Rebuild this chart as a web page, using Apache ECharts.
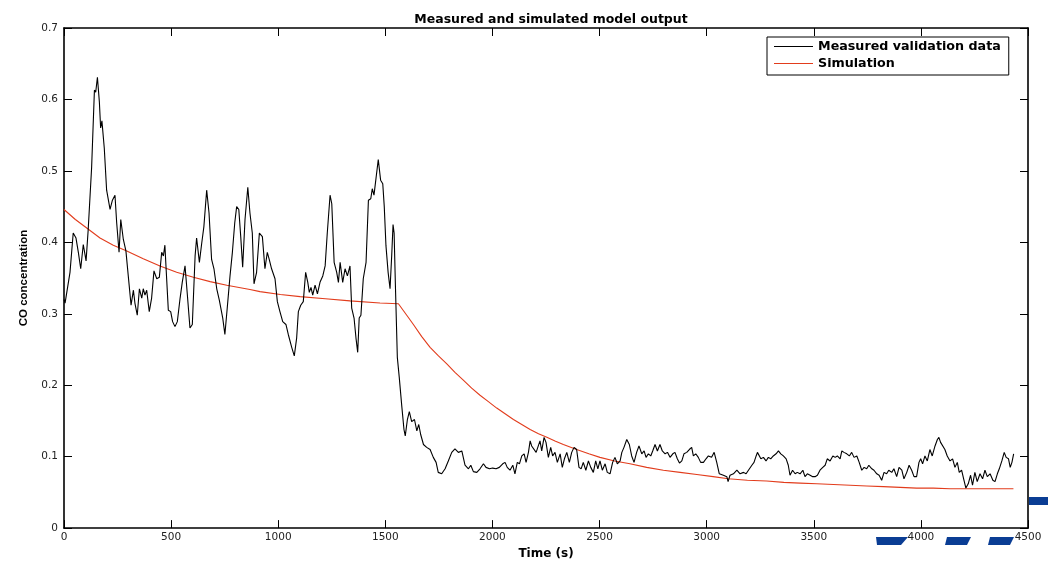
<!DOCTYPE html>
<html>
<head>
<meta charset="utf-8">
<script src="https://cdn.jsdelivr.net/npm/echarts@6/dist/echarts.min.js"></script>
<style>
  html, body { margin: 0; padding: 0; background: #fff; }
  #chart { width: 1048px; height: 565px; }
</style>
</head>
<body>
<div id="chart"></div>
<script>
// measured validation data, [time (s), CO concentration]
const measured = [
  [0, 0.320], [5, 0.315], [10, 0.317], [28, 0.358], [43, 0.413], [56, 0.406], [67, 0.386],
  [78, 0.363], [90, 0.397], [103, 0.374], [113, 0.418], [129, 0.505], [142, 0.613], [148, 0.610],
  [156, 0.631], [165, 0.597], [171, 0.560], [177, 0.570], [188, 0.532], [199, 0.473], [204, 0.475],
  [215, 0.446], [226, 0.459], [238, 0.466], [246, 0.427], [257, 0.386], [265, 0.432], [277, 0.404],
  [289, 0.388], [300, 0.353], [313, 0.312], [324, 0.333], [331, 0.315], [342, 0.298], [352, 0.335],
  [363, 0.322], [370, 0.335], [378, 0.326], [386, 0.333], [398, 0.303], [409, 0.322], [420, 0.360],
  [433, 0.349], [445, 0.351], [456, 0.386], [464, 0.381], [471, 0.396], [476, 0.367], [487, 0.305],
  [498, 0.303], [507, 0.289], [518, 0.282], [529, 0.289], [542, 0.322], [552, 0.344], [565, 0.367],
  [576, 0.326], [588, 0.280], [599, 0.285], [612, 0.381], [619, 0.406], [632, 0.372], [643, 0.399],
  [653, 0.422], [666, 0.473], [677, 0.441], [689, 0.376], [700, 0.363], [713, 0.335], [725, 0.319],
  [741, 0.294], [751, 0.271], [762, 0.308], [775, 0.353], [786, 0.386], [797, 0.427], [806, 0.450],
  [816, 0.446], [825, 0.408], [834, 0.365], [845, 0.432], [858, 0.477], [868, 0.441], [879, 0.413],
  [887, 0.342], [899, 0.358], [912, 0.413], [926, 0.408], [938, 0.363], [949, 0.386], [958, 0.376],
  [969, 0.363], [985, 0.349], [996, 0.317], [1008, 0.303], [1021, 0.289], [1036, 0.285], [1047, 0.271],
  [1063, 0.253], [1075, 0.241], [1086, 0.266], [1094, 0.303], [1105, 0.312], [1117, 0.317], [1128, 0.358],
  [1138, 0.344], [1145, 0.330], [1153, 0.337], [1161, 0.326], [1172, 0.340], [1183, 0.328], [1195, 0.344],
  [1208, 0.353], [1219, 0.367], [1229, 0.413], [1242, 0.466], [1250, 0.454], [1261, 0.372], [1273, 0.358],
  [1281, 0.344], [1289, 0.372], [1301, 0.344], [1312, 0.363], [1323, 0.353], [1335, 0.367], [1343, 0.308],
  [1354, 0.294], [1363, 0.266], [1371, 0.246], [1378, 0.294], [1386, 0.298], [1397, 0.349], [1410, 0.372],
  [1421, 0.459], [1432, 0.461], [1439, 0.475], [1447, 0.466], [1457, 0.491], [1467, 0.516], [1478, 0.487],
  [1488, 0.482], [1495, 0.450], [1503, 0.395], [1513, 0.358], [1522, 0.335], [1530, 0.383], [1536, 0.425],
  [1541, 0.413], [1547, 0.340], [1556, 0.239], [1565, 0.211], [1577, 0.170], [1587, 0.138], [1593, 0.129],
  [1603, 0.152], [1612, 0.163], [1623, 0.149], [1636, 0.152], [1647, 0.136], [1656, 0.145], [1665, 0.131],
  [1678, 0.117], [1693, 0.113], [1709, 0.110], [1724, 0.099], [1737, 0.092], [1747, 0.078], [1763, 0.076],
  [1779, 0.083], [1794, 0.094], [1810, 0.106], [1825, 0.111], [1841, 0.106], [1857, 0.108], [1872, 0.088],
  [1888, 0.083], [1899, 0.088], [1911, 0.079], [1927, 0.078], [1942, 0.083], [1958, 0.090], [1970, 0.085],
  [1986, 0.083], [2001, 0.084], [2017, 0.083], [2032, 0.085], [2048, 0.090], [2059, 0.092], [2069, 0.085],
  [2082, 0.081], [2095, 0.088], [2105, 0.076], [2116, 0.092], [2126, 0.090], [2137, 0.101], [2148, 0.104],
  [2157, 0.092], [2168, 0.106], [2176, 0.122], [2183, 0.115], [2191, 0.117], [2204, 0.106], [2214, 0.115],
  [2222, 0.122], [2230, 0.108], [2241, 0.127], [2250, 0.120], [2261, 0.099], [2272, 0.113], [2281, 0.101],
  [2292, 0.106], [2303, 0.092], [2316, 0.104], [2326, 0.085], [2336, 0.097], [2347, 0.106], [2359, 0.092],
  [2370, 0.106], [2381, 0.113], [2393, 0.110], [2404, 0.085], [2414, 0.083], [2424, 0.092], [2436, 0.081],
  [2448, 0.094], [2459, 0.085], [2471, 0.078], [2482, 0.094], [2492, 0.083], [2502, 0.094], [2513, 0.081],
  [2526, 0.090], [2536, 0.078], [2549, 0.076], [2561, 0.092], [2572, 0.099], [2583, 0.090], [2596, 0.094],
  [2604, 0.106], [2614, 0.113], [2627, 0.124], [2639, 0.117], [2650, 0.101], [2661, 0.092], [2673, 0.106],
  [2684, 0.115], [2697, 0.104], [2708, 0.108], [2717, 0.099], [2728, 0.104], [2739, 0.101], [2748, 0.108],
  [2759, 0.117], [2770, 0.108], [2782, 0.117], [2793, 0.108], [2806, 0.104], [2817, 0.106], [2829, 0.099],
  [2842, 0.104], [2852, 0.106], [2863, 0.097], [2873, 0.091], [2884, 0.094], [2894, 0.104], [2907, 0.106],
  [2919, 0.110], [2930, 0.113], [2938, 0.101], [2949, 0.104], [2961, 0.099], [2972, 0.092], [2985, 0.092],
  [2997, 0.097], [3008, 0.101], [3023, 0.099], [3035, 0.106], [3047, 0.092], [3059, 0.076], [3078, 0.074],
  [3094, 0.072], [3100, 0.065], [3109, 0.074], [3125, 0.076], [3141, 0.081], [3156, 0.076], [3172, 0.078],
  [3184, 0.076], [3195, 0.081], [3211, 0.088], [3221, 0.092], [3231, 0.101], [3237, 0.106], [3246, 0.108],
  [3253, 0.097], [3265, 0.099], [3277, 0.094], [3288, 0.099], [3299, 0.097], [3311, 0.101], [3324, 0.104],
  [3335, 0.108], [3346, 0.104], [3358, 0.101], [3371, 0.097], [3381, 0.088], [3389, 0.074], [3401, 0.081],
  [3413, 0.076], [3423, 0.078], [3436, 0.076], [3449, 0.081], [3459, 0.072], [3470, 0.076], [3483, 0.074],
  [3495, 0.072], [3506, 0.072], [3517, 0.074], [3529, 0.081], [3542, 0.085], [3553, 0.088], [3563, 0.097],
  [3576, 0.094], [3589, 0.101], [3600, 0.099], [3610, 0.101], [3623, 0.097], [3631, 0.108], [3641, 0.106],
  [3654, 0.104], [3666, 0.101], [3677, 0.106], [3688, 0.099], [3701, 0.101], [3712, 0.092], [3724, 0.081],
  [3735, 0.085], [3747, 0.083], [3757, 0.088], [3771, 0.083], [3781, 0.081], [3794, 0.076], [3805, 0.074],
  [3817, 0.067], [3828, 0.078], [3840, 0.076], [3850, 0.081], [3864, 0.078], [3874, 0.083], [3887, 0.072],
  [3898, 0.085], [3911, 0.081], [3921, 0.069], [3934, 0.078], [3945, 0.088], [3957, 0.081], [3968, 0.072],
  [3980, 0.072], [3991, 0.092], [3999, 0.097], [4008, 0.090], [4019, 0.101], [4030, 0.094], [4042, 0.110],
  [4053, 0.101], [4066, 0.115], [4077, 0.124], [4084, 0.127], [4092, 0.120], [4101, 0.122], [4112, 0.110],
  [4123, 0.101], [4136, 0.094], [4148, 0.097], [4159, 0.085], [4170, 0.092], [4179, 0.078], [4190, 0.081],
  [4201, 0.067], [4210, 0.056], [4221, 0.062], [4232, 0.074], [4241, 0.060], [4252, 0.078], [4263, 0.065],
  [4276, 0.076], [4288, 0.069], [4299, 0.081], [4310, 0.072], [4323, 0.076], [4336, 0.067], [4346, 0.065],
  [4357, 0.076], [4366, 0.083], [4378, 0.094], [4389, 0.106], [4398, 0.099], [4409, 0.097], [4417, 0.085],
  [4425, 0.092], [4433, 0.104]
];

// simulated model output
const simulation = [
  [0, 0.446], [53, 0.432], [106, 0.420], [168, 0.406], [230, 0.396], [293, 0.388], [370, 0.377],
  [448, 0.367], [526, 0.358], [604, 0.351], [682, 0.345], [760, 0.340], [868, 0.334], [915, 0.331],
  [1010, 0.327], [1102, 0.324], [1220, 0.321], [1335, 0.318], [1475, 0.315], [1561, 0.314], [1569, 0.312],
  [1600, 0.298], [1631, 0.285], [1670, 0.268], [1709, 0.253], [1748, 0.241], [1787, 0.230], [1825, 0.218],
  [1864, 0.207], [1903, 0.196], [1942, 0.186], [1981, 0.177], [2020, 0.168], [2059, 0.160], [2098, 0.152],
  [2137, 0.145], [2176, 0.138], [2215, 0.132], [2254, 0.127], [2292, 0.122], [2331, 0.117], [2393, 0.110],
  [2450, 0.104], [2502, 0.099], [2570, 0.094], [2642, 0.090], [2720, 0.085], [2798, 0.081], [2876, 0.078],
  [2954, 0.075], [3030, 0.072], [3101, 0.069], [3190, 0.067], [3280, 0.066], [3360, 0.064], [3436, 0.063],
  [3514, 0.062], [3592, 0.061], [3670, 0.060], [3747, 0.059], [3825, 0.058], [3903, 0.057], [3980, 0.056],
  [4058, 0.056], [4136, 0.055], [4214, 0.055], [4320, 0.055], [4432, 0.055]
];

const xTicks = { min: 0, max: 4500, interval: 500 };
const yTicks = { min: 0, max: 0.7, interval: 0.1 };

const font = 'DejaVu Sans, Liberation Sans, Arial, sans-serif';

const myChart = echarts.init(document.getElementById('chart'), null, { renderer: 'canvas' });

function axisBase(pos, showLabel) {
  return {
    type: 'value',
    position: pos,
    splitLine: { show: false },
    axisLine: { show: true, onZero: false, lineStyle: { color: '#000', width: 1.6 } },
    axisTick: { show: true, inside: true, length: 8, lineStyle: { color: '#000', width: 1 } },
    axisLabel: { show: showLabel, color: '#222', fontFamily: font, fontSize: 10.5 }
  };
}

const xBottom = Object.assign(axisBase('bottom', true), xTicks, {
  name: 'Time (s)',
  nameLocation: 'middle',
  nameGap: 14,
  nameTextStyle: { fontFamily: font, fontWeight: 'bold', fontSize: 12, color: '#000' }
});
xBottom.axisLabel.margin = 4;
xBottom.axisLabel.formatter = v => String(v);

const xTop = Object.assign(axisBase('top', false), xTicks);

const yLeft = Object.assign(axisBase('left', true), yTicks, {
  name: 'CO concentration',
  nameLocation: 'middle',
  nameGap: 34,
  nameTextStyle: { fontFamily: 'Liberation Sans, Arial, sans-serif', fontWeight: 'bold', fontSize: 11.5, color: '#000' }
});
yLeft.axisLabel.margin = 6;
yLeft.axisLabel.formatter = v => (v === 0 ? '0' : v.toFixed(1));

const yRight = Object.assign(axisBase('right', false), yTicks);

const option = {
  backgroundColor: '#fff',
  animation: false,
  title: {
    text: 'Measured and simulated model output',
    left: 546,
    textAlign: 'center',
    top: 8,
    textStyle: { fontFamily: font, fontWeight: 'bold', fontSize: 12.5, color: '#000' }
  },
  legend: {
    orient: 'vertical',
    left: 767,
    top: 37,
    padding: [3, 8, 5, 7],
    itemGap: 4,
    itemWidth: 39,
    itemHeight: 13,
    icon: 'path://M0,6.2 L39,6.2 L39,7.3 L0,7.3 Z',
    borderColor: '#000',
    borderWidth: 1,
    backgroundColor: '#fff',
    textStyle: { fontFamily: font, fontWeight: 'bold', fontSize: 12.7, color: '#000' },
    data: ['Measured validation data', 'Simulation']
  },
  grid: { left: 64, right: 20, top: 28, bottom: 28, containLabel: false },
  xAxis: [xBottom, xTop],
  yAxis: [yLeft, yRight],
  graphic: [
    { type: 'polygon', z: -1, shape: { points: [[876, 537], [908, 537], [901, 545], [877, 545]] }, style: { fill: '#0a3d94' } },
    { type: 'polygon', z: -1, shape: { points: [[947, 537], [971, 537], [967, 545], [945, 545]] }, style: { fill: '#0a3d94' } },
    { type: 'polygon', z: -1, shape: { points: [[990, 537], [1014, 537], [1010, 545], [988, 545]] }, style: { fill: '#0a3d94' } },
    { type: 'rect', z: -1, shape: { x: 1029, y: 497, width: 19, height: 8 }, style: { fill: '#0a3d94' } }
  ],
  series: [
    {
      name: 'Measured validation data',
      type: 'line',
      data: measured,
      symbol: 'none',
      lineStyle: { color: '#000', width: 1.1 },
      itemStyle: { color: '#000' },
      z: 3
    },
    {
      name: 'Simulation',
      type: 'line',
      data: simulation,
      symbol: 'none',
      lineStyle: { color: '#e23c1c', width: 1.1 },
      itemStyle: { color: '#e23c1c' },
      z: 2
    }
  ]
};

myChart.setOption(option);
</script>
</body>
</html>
